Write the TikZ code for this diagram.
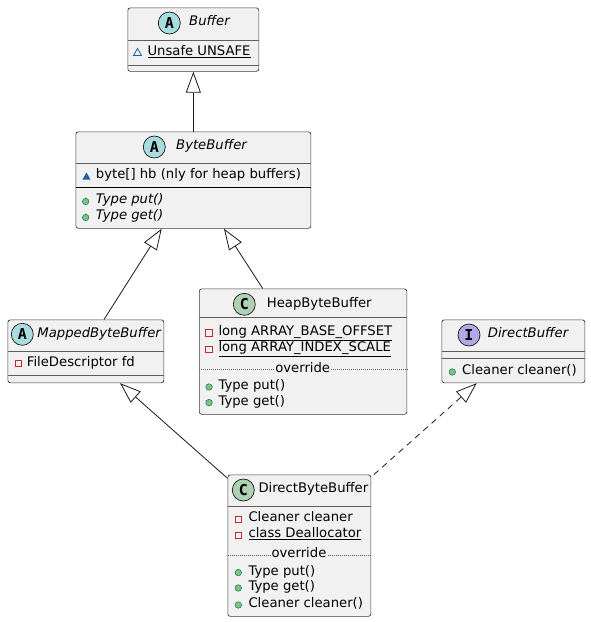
\documentclass[tikz,border=0pt]{standalone}
\usepackage{fontspec}
\setmainfont{DejaVu Sans}
\newfontfamily\circfont{DejaVu Sans Mono}
\usetikzlibrary{arrows.meta}
\definecolor{boxfill}{HTML}{F1F1F1}
\definecolor{boxline}{HTML}{181818}
\definecolor{absC}{HTML}{A9DCDF}
\definecolor{clsC}{HTML}{ADD1B2}
\definecolor{intC}{HTML}{B4A7E5}
\definecolor{privR}{HTML}{C82930}
\definecolor{pubG}{HTML}{84BE84}
\definecolor{pubGd}{HTML}{038048}
\definecolor{pkgB}{HTML}{1963A0}
\tikzset{
  x=1pt, y=-1pt,
  classbox/.style={draw=boxline!85, fill=boxfill, rounded corners=2.5pt, line width=0.7pt,
    inner sep=0, anchor=north west},
  sepline/.style={draw=boxline!70, line width=0.55pt},
  dotsep/.style={draw=boxline!70, line width=0.5pt, dash pattern=on 1pt off 1pt},
  txt/.style={anchor=mid west, inner sep=0, font=\fontsize{13.2}{15}\selectfont},
  itxt/.style={txt, font=\fontsize{13.2}{15}\selectfont\itshape},
  ovr/.style={anchor=mid, inner xsep=1pt, inner ysep=0, fill=boxfill, font=\fontsize{13.2}{15}\selectfont},
  circ/.style={circle, draw=boxline, line width=0.7pt, minimum size=22pt, inner sep=0,
    font=\fontsize{15}{15}\selectfont\circfont\bfseries},
  privf/.style={draw=privR, line width=0.8pt, fill=none, minimum size=6.5pt, inner sep=0, rectangle},
  pubm/.style={draw=pubGd, line width=0.5pt, fill=pubG, minimum size=6.5pt, inner sep=0, circle},
  inh/.style={draw=boxline, line width=0.8pt, -{Triangle[open, length=21pt, width=15pt, line width=0.8pt]}},
  impl/.style={inh, dash pattern=on 6pt off 5pt},
}
\begin{document}
\begin{tikzpicture}
\useasboundingbox (0,0) rectangle (590,622);

% ---------- Buffer ----------
\node[classbox, minimum width=131pt, minimum height=63.5pt] (buffer) at (127.5,7.5) {};
\node[circ, fill=absC] (buffercirc) at (169.3,23) {A};
\node[itxt] (buffertitle) at (189,23) {Buffer};
\draw[sepline] (buffer.west |- 0,40.7) -- (buffer.east |- 0,40.7);
\draw[sepline] (buffer.west |- 0,65) -- (buffer.east |- 0,65);
\path[draw=pkgB, line width=0.8pt] (133.5,55.5) -- (141.5,55.5) -- (137.5,48.5) -- cycle;
\node[txt] (bufferf1) at (147.3,52.5) {\underline{Unsafe UNSAFE}};

% ---------- ByteBuffer ----------
\node[classbox, minimum width=235pt, minimum height=96.5pt] (byte) at (75.5,131.5) {};
\node[circ, fill=absC] (bytecirc) at (154.3,147) {A};
\node[itxt] (bytetitle) at (176,147) {ByteBuffer};
\draw[sepline] (byte.west |- 0,163.7) -- (byte.east |- 0,163.7);
\draw[draw=black, line width=1pt] (byte.west |- 0,187.3) -- (byte.east |- 0,187.3);
\path[fill=pkgB] (82.5,179.5) -- (90.5,179.5) -- (86.5,172.5) -- cycle;
\node[txt] (bytef1) at (95.7,175.7) {byte[] hb (nly for heap buffers)};
\node[pubm] (bytem1i) at (85.7,201.5) {};
\node[itxt] (bytem1) at (95.7,201) {Type put()};
\node[pubm] (bytem2i) at (85.7,217.5) {};
\node[itxt] (bytem2) at (95.7,217) {Type get()};

% ---------- HeapByteBuffer ----------
\node[classbox, minimum width=207.5pt, minimum height=125.5pt] (heap) at (199,288.5) {};
\node[circ, fill=clsC] (heapcirc) at (244.3,304.3) {C};
\node[txt] (heaptitle) at (266.7,304.3) {HeapByteBuffer};
\draw[sepline] (heap.west |- 0,317.3) -- (heap.east |- 0,317.3);
\node[privf] (heapf1i) at (209,333) {};
\node[txt] (heapf1) at (218.3,332.7) {\underline{long ARRAY\_BASE\_OFFSET}};
\node[privf] (heapf2i) at (209,349.3) {};
\node[txt] (heapf2) at (218.3,349) {\underline{long ARRAY\_INDEX\_SCALE}};
\draw[dotsep] (heap.west |- 0,369.3) -- (heap.east |- 0,369.3);
\node[ovr] (heapovr) at (302.7,369.3) {override};
\node[pubm] (heapm1i) at (209,387) {};
\node[txt] (heapm1) at (218.3,386.7) {Type put()};
\node[pubm] (heapm2i) at (209,402.6) {};
\node[txt] (heapm2) at (218.3,402.3) {Type get()};

% ---------- MappedByteBuffer ----------
\node[classbox, minimum width=156pt, minimum height=63pt] (mapped) at (7.5,319.5) {};
\node[circ, fill=absC] (mappedcirc) at (22.3,334.3) {A};
\node[itxt] (mappedtitle) at (37.3,334.3) {MappedByteBuffer};
\draw[sepline] (mapped.west |- 0,351) -- (mapped.east |- 0,351);
\draw[sepline] (mapped.west |- 0,375.7) -- (mapped.east |- 0,375.7);
\node[privf] (mappedf1i) at (18.3,363.6) {};
\node[txt] (mappedf1) at (26.7,363.3) {FileDescriptor fd};

% ---------- DirectBuffer ----------
\node[classbox, minimum width=143pt, minimum height=63pt] (dbuf) at (441.5,319.5) {};
\node[circ, fill=intC] (dbufcirc) at (469,335) {I};
\node[itxt] (dbuftitle) at (487.7,335) {DirectBuffer};
\draw[sepline] (dbuf.west |- 0,351.7) -- (dbuf.east |- 0,351.7);
\draw[sepline] (dbuf.west |- 0,358.3) -- (dbuf.east |- 0,358.3);
\node[pubm] (dbufm1i) at (452.3,372) {};
\node[txt] (dbufm1) at (462,371.7) {Cleaner cleaner()};

% ---------- DirectByteBuffer ----------
\node[classbox, minimum width=143pt, minimum height=141.5pt] (dbb) at (227.5,474.5) {};
\node[circ, fill=clsC] (dbbcirc) at (243.3,490) {C};
\node[txt] (dbbtitle) at (258.3,490) {DirectByteBuffer};
\draw[sepline] (dbb.west |- 0,506) -- (dbb.east |- 0,506);
\node[privf] (dbbf1i) at (238.3,519.3) {};
\node[txt] (dbbf1) at (248.3,519) {Cleaner cleaner};
\node[privf] (dbbf2i) at (238.3,535.3) {};
\node[txt] (dbbf2) at (248.3,535) {\underline{class Deallocator}};
\draw[dotsep] (dbb.west |- 0,555) -- (dbb.east |- 0,555);
\node[ovr] (dbbovr) at (299,555) {override};
\node[pubm] (dbbm1i) at (238.3,572.6) {};
\node[txt] (dbbm1) at (248.3,572.3) {Type put()};
\node[pubm] (dbbm2i) at (238.3,588) {};
\node[txt] (dbbm2) at (248.3,587.7) {Type get()};
\node[pubm] (dbbm3i) at (238.3,605) {};
\node[txt] (dbbm3) at (248.3,604.7) {Cleaner cleaner()};

% ---------- connectors ----------
\draw[inh] (byte.north) -- (buffer.south);
\draw[inh] (mapped.north -| 104,0) -- (byte.south -| 161.7,0);
\draw[inh] (heap.north -| 262.7,0) -- (byte.south -| 224,0);
\draw[inh] (dbb.west |- 0,478.3) -- (mapped.south -| 120,0);
\draw[impl] (dbb.north -| 374,0) -- (dbuf.south -| 476.7,0);
\end{tikzpicture}
\end{document}
